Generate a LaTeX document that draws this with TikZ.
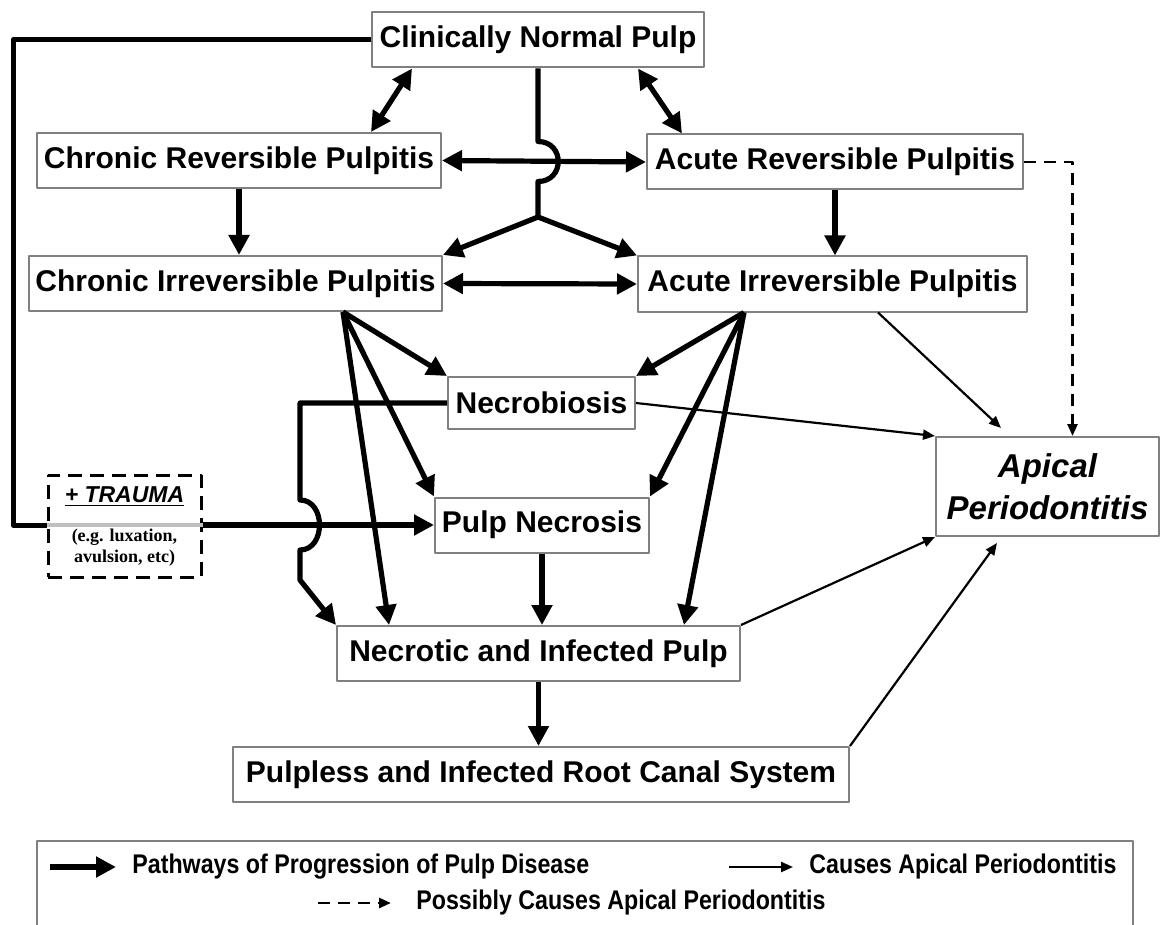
\documentclass[tikz,border=0pt]{standalone}
\usepackage{fontspec}
\setmainfont{Liberation Sans}
\newfontfamily\notefont{Liberation Serif}
\usepackage{graphicx}
\usetikzlibrary{arrows.meta,calc}
\definecolor{boxgray}{gray}{0.5}
\definecolor{bandgray}{gray}{0.75}
\newcommand{\stagefont}{\fontsize{15}{18}\selectfont\bfseries}
\newcommand{\apfont}{\fontsize{16.5}{21}\selectfont\bfseries\itshape}
\newcommand{\legendfont}{\fontsize{13.5}{16}\selectfont\bfseries}

\begin{document}
\begin{tikzpicture}[x=0.5pt,y=-0.5pt,line join=round,
  stage/.style={draw=boxgray,line width=1pt,fill=white,font=\stagefont,minimum height=27.5pt,inner sep=2pt},
  traumabox/.style={draw,line width=1.5pt,dash pattern=on 7pt off 4pt,minimum width=76.5pt,minimum height=51pt},
  pathway/.style={line width=2.6pt,-{Triangle[length=10pt,width=10pt]}},
  twoway/.style={line width=2.6pt,{Triangle[length=10pt,width=10pt]}-{Triangle[length=10pt,width=10pt]}},
  causes/.style={line width=1.1pt,-{Triangle[length=6pt,width=5pt]}},
  possibly/.style={line width=1.3pt,dash pattern=on 6pt off 4pt,-{Triangle[length=6pt,width=5pt]}},
  legendtext/.style={font=\legendfont,anchor=west,inner sep=0pt}]
  \useasboundingbox (0,0) rectangle (1161,925);
  \clip (0,0) rectangle (1161,925);

  \node[stage,minimum width=166pt] (cnp) at (538,40) {Clinically Normal Pulp};
  \node[stage,minimum width=202pt] (cr) at (239,160.5) {Chronic Reversible Pulpitis};
  \node[stage,minimum width=188pt] (ar) at (835,162) {Acute Reversible Pulpitis};
  \node[stage,minimum width=206.5pt] (ci) at (235.5,283.5) {Chronic Irreversible Pulpitis};
  \node[stage,minimum width=194.5pt] (ai) at (832.5,284) {Acute Irreversible Pulpitis};
  \node[stage,minimum width=93.5pt,minimum height=26pt] (nb) at (541.5,403) {Necrobiosis};
  \node[stage,minimum width=107pt] (pn) at (542,525) {Pulp Necrosis};
  \node[stage,minimum width=201.5pt] (nip) at (538.5,653.5) {Necrotic and Infected Pulp};
  \node[stage,minimum width=308pt] (pl) at (541,774.5) {Pulpless and Infected Root Canal System};
  \node[stage,minimum width=111.5pt,minimum height=49.5pt,align=center,font=\apfont] (ap) at (1047.5,486.5) {Apical\\Periodontitis};

  \node[traumabox] (trauma) at (124.5,526) {};
  \node[font=\fontsize{11.5}{14}\selectfont\bfseries\itshape] (traumatitle) at (124.5,497) {\underline{+ TRAUMA}};
  \node[font=\notefont\fontsize{9}{10.5}\selectfont\bfseries,align=center] (traumanote) at (124.5,548) {(e.g. luxation,\\avulsion, etc)};

  \coordinate (loop) at (13,40);
  \draw[line width=2.5pt] (cnp.west) -- (loop) |- (trauma.west |- pn.west);
  \draw[line width=2pt,bandgray] (trauma.west |- pn.west) -- (trauma.east |- pn.west);
  \draw[pathway] (trauma.east |- pn.west) -- (pn.west);
  \coordinate (nbhop) at (300,500);
  \draw[pathway] (nb.west) -| (nbhop) .. controls +(26,0) and +(26,0) .. ++(0,50) -- ++(0,30) -- (nip.north west);

  \coordinate (split) at (538,217);
  \draw[line width=2.6pt] (cnp.south) -- ++(0,73) .. controls +(27,0) and +(27,0) .. ++(0,40) -- (split);
  \draw[pathway] (split) -- (ci.north east);
  \draw[pathway] (split) -- (ai.north west);
  \draw[twoway] (cr.east) -- (ar.west);
  \draw[twoway] (ci.east) -- (ai.west);
  \draw[twoway] ($(cnp.south west)+(41,0)$) -- ($(cr.north east)+(-71,0)$);
  \draw[twoway] ($(cnp.south east)+(-67,0)$) -- ($(ar.north west)+(36,0)$);
  \draw[pathway] (cr.south) -- (cr.south |- ci.north);
  \draw[pathway] (ar.south) -- (ar.south |- ai.north);

  \coordinate (cifan) at ($(ci.south east)+(-100,0)$);
  \coordinate (aifan) at ($(ai.south west)+(107,0)$);
  \draw[pathway] (cifan) -- (nb.north west);
  \draw[pathway] (cifan) -- (pn.north west);
  \draw[pathway] (cifan) -- ($(nip.north west)+(53,0)$);
  \draw[pathway] (aifan) -- (nb.north east);
  \draw[pathway] (aifan) -- (pn.north east);
  \draw[pathway] (aifan) -- ($(nip.north east)+(-57,0)$);
  \draw[pathway] (pn.south) -- (pn.south |- nip.north);
  \draw[pathway] (nip.south) -- (nip.south |- pl.north);

  \draw[causes] ($(ai.south east)+(-150,0)$) -- ($(ap.north west)+(66,-8)$);
  \draw[causes] (nb.east) -- (ap.north west);
  \draw[causes] (nip.north east) -- (ap.south west);
  \draw[causes] (pl.north east) -- ($(ap.south west)+(62,6)$);
  \draw[possibly] (ar.east) -| ($(ap.north)+(25,0)$);

  \draw[boxgray,line width=1.2pt] (37,960) |- (1133,841) -- (1133,960);
  \node[legendtext] (lgpath) at (132,867) {\scalebox{0.86}[1]{Pathways of Progression of Pulp Disease}};
  \node[legendtext] (lgcause) at (809,867) {\scalebox{0.86}[1]{Causes Apical Periodontitis}};
  \node[legendtext] (lgposs) at (416,903) {\scalebox{0.86}[1]{Possibly Causes Apical Periodontitis}};
  \draw[pathway,line width=3pt] ($(lgpath.west)+(-82,0)$) -- ($(lgpath.west)+(-16,0)$);
  \draw[causes] ($(lgcause.west)+(-80,0)$) -- ($(lgcause.west)+(-16,0)$);
  \draw[possibly] ($(lgposs.west)+(-98,0)$) -- ($(lgposs.west)+(-25,0)$);
\end{tikzpicture}
\end{document}
